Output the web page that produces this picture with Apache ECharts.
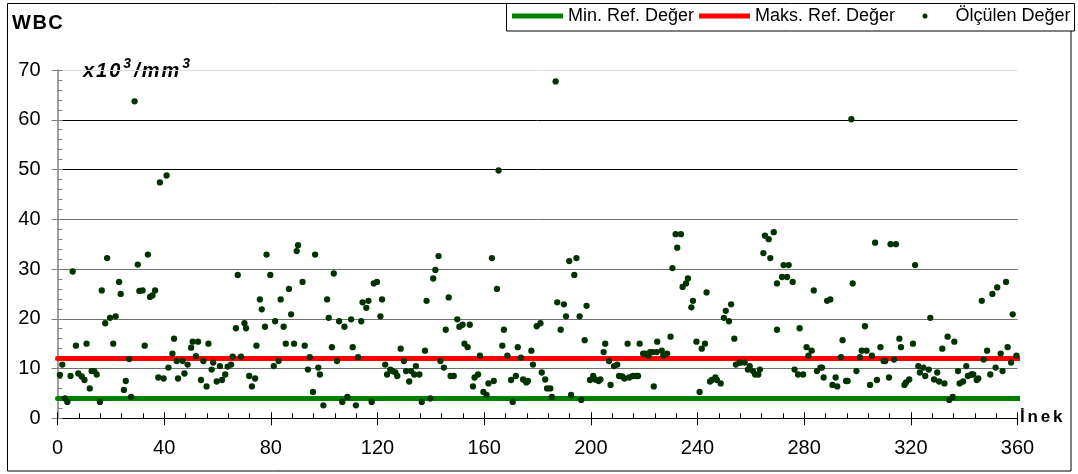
<!DOCTYPE html>
<html>
<head>
<meta charset="utf-8">
<script src="https://cdn.jsdelivr.net/npm/echarts@6/dist/echarts.min.js"></script>
<style>
  html, body { margin: 0; padding: 0; background: #fff; }
  #chart { width: 1078px; height: 474px; }
</style>
</head>
<body>
<div id="chart"></div>
<script>
// Cow position on the herd axis (İnek) and measured WBC (x10^3/mm^3)
const inek = [
  0.9, 1.8, 2.8, 3.7, 4.9, 5.7, 6.9, 7.8, 9.1, 10.1, 10.9, 12.1, 12.8, 13.8, 14.7, 15.9, 16.6, 17.9, 18.6, 19.7,
  20.9, 21.8, 23.1, 23.7, 24.9, 25.6, 26.9, 27.6, 28.9, 30.1, 30.7, 31.9, 32.7, 33.9, 34.7, 35.6, 36.6, 37.8, 38.4, 39.8,
  40.9, 41.6, 43.1, 43.7, 44.7, 45.2,
  46.9, 47.6, 48.8, 50.1, 50.7, 51.9, 52.7, 53.8, 54.7, 55.9, 56.6, 57.8, 58.4, 59.7, 60.9, 61.7, 62.9, 63.8, 65.1, 65.7,
  66.9, 67.6, 68.8, 70.1, 70.7, 71.9, 72.9, 74.1, 74.6, 75.9, 76.6, 77.8, 78.4, 79.8, 81.1, 81.6, 82.9, 83.7, 84.8, 85.6,
  86.8, 87.6, 88.7, 89.7, 90.2,
  91.9, 92.7, 93.9, 94.6, 95.8, 96.6, 97.8, 98.4, 99.7, 101.1, 101.7, 102.9, 103.6, 104.8, 105.6, 106.8, 107.6, 108.7, 110.1, 110.7,
  111.9, 112.7, 113.9, 114.4, 115.8, 116.6, 117.8, 118.6, 119.8, 121.1, 121.7, 122.9, 123.6, 124.8, 125.6, 126.7, 127.4, 128.7, 129.9, 130.7,
  131.9, 132.6, 133.8, 134.4,
  135.7, 136.6, 137.8, 138.4, 139.8, 140.9, 141.7, 142.9, 143.6, 144.9, 145.6, 146.7, 147.4, 148.6, 149.9, 150.7, 151.9, 152.6, 153.8, 154.6,
  155.8, 156.4, 157.7, 158.4, 159.7, 160.9, 161.6, 162.9, 163.6, 164.8, 165.4, 166.8, 167.4, 168.7, 170.1, 170.7, 171.9, 172.6, 173.8, 174.6,
  175.8, 176.4, 177.7, 178.3, 179.7,
  181.1, 181.6, 182.9, 183.6, 184.8, 185.4, 186.8, 187.4, 188.7, 189.9, 190.7, 191.9, 192.6, 193.8, 194.6, 195.8, 196.4, 197.7, 198.4, 199.7,
  200.9, 201.6, 202.9, 203.6, 204.8, 205.4, 206.8, 207.4, 208.7, 209.9, 210.6, 211.8, 212.6, 213.8, 214.4, 215.7, 216.9, 217.7, 218.3, 219.6,
  220.3, 221.6, 222.2, 223.2, 223.6, 224.7, 224.9,
  226.6, 227.2, 228.6, 229.9, 230.6, 231.8, 232.4, 233.8, 234.4, 235.7, 236.4, 237.7, 238.3, 239.6, 240.8, 241.6, 242.8, 243.4, 244.7, 245.4,
  246.7, 247.3, 248.7, 249.9, 250.6, 251.8, 252.6, 253.8, 254.4, 255.7, 256.3, 257.7, 258.9, 259.6, 260.8, 261.6, 262.8, 263.4, 264.7, 265.3,
  266.7, 267.3, 268.6, 269.8, 269.8,
  271.7, 272.3, 273.6, 274.2, 275.7, 276.4, 277.7, 278.3, 279.6, 280.9, 281.6, 282.8, 283.6, 284.8, 286.1, 286.7, 287.3, 288.6, 289.8, 290.6,
  291.8, 292.4, 293.8, 294.4, 295.7, 296.3, 297.7, 298.2, 299.6, 300.9, 301.6, 302.8, 303.4, 304.7, 305.4, 306.6, 307.3, 308.6, 309.8, 310.4,
  311.8, 312.4, 313.7, 314.4,
  315.7, 316.3, 317.6, 318.2, 319.4, 320.8, 321.6, 322.8, 323.4, 324.7, 325.4, 326.7, 327.3, 328.7, 329.9, 330.6, 331.8, 332.6, 333.8, 334.4,
  335.7, 336.3, 337.7, 338.3, 339.6, 340.8, 341.4, 342.7, 343.4, 344.7, 345.3, 346.6, 347.3, 348.6, 349.8, 350.6, 351.8, 352.4, 353.7, 354.4,
  355.7, 356.3, 357.6, 358.2, 359.6
];
const wbc = [
  8.7, 10.8, 4.0, 3.3, 8.5, 29.5, 14.6, 9.0, 8.4, 7.7, 15.0, 6.0, 9.5, 9.5, 8.8, 3.3, 25.7, 19.1, 32.2, 20.2,
  15.0, 20.5, 27.4, 25.0, 5.7, 7.5, 11.9, 4.3, 63.7, 30.9, 25.6, 25.7, 14.6, 32.9, 24.4, 24.7, 25.7, 8.2, 47.4, 8.0,
  48.8, 10.2, 13.0, 16.0, 11.5, 8.0,
  11.5, 9.0, 10.8, 14.2, 15.4, 12.5, 15.4, 7.7, 11.5, 6.4, 15.0, 9.8, 11.2, 7.4, 10.5, 7.7, 8.8, 10.4, 10.8, 12.4,
  18.1, 28.8, 12.4, 19.1, 18.1, 8.5, 6.4, 8.0, 14.6, 23.9, 21.9, 18.4, 32.9, 28.8, 10.5, 19.5, 11.5, 23.9, 18.4, 15.0,
  26.0, 20.9, 15.0, 33.6, 34.8,
  27.4, 14.6, 9.8, 12.3, 5.3, 32.9, 10.2, 8.8, 2.6, 23.9, 20.2, 14.3, 29.1, 11.5, 19.5, 3.3, 18.4, 4.3, 19.9, 14.3,
  2.6, 12.3, 19.5, 23.3, 22.2, 23.6, 3.3, 27.1, 27.4, 20.5, 23.9, 10.8, 8.8, 9.8, 9.5, 9.2, 8.5, 14.0, 11.5, 9.5,
  7.4, 9.5, 8.8, 10.5,
  8.8, 3.3, 13.6, 23.6, 4.0, 28.1, 29.8, 32.6, 11.5, 10.2, 17.8, 24.3, 8.5, 8.5, 19.9, 18.4, 18.8, 15.0, 14.3, 18.8,
  6.4, 8.2, 8.8, 12.6, 5.3, 4.7, 7.0, 32.2, 7.5, 26.0, 49.8, 14.6, 17.8, 12.6, 7.7, 3.3, 8.5, 14.3, 12.2, 7.8,
  7.2, 7.5, 13.6, 10.8, 18.5,
  19.1, 9.2, 7.8, 6.0, 6.0, 4.3, 67.7, 23.3, 17.8, 22.9, 20.5, 31.6, 4.7, 28.8, 32.2, 20.5, 3.7, 15.7, 22.6, 7.7,
  8.5, 7.8, 7.5, 7.8, 13.3, 15.0, 11.5, 6.7, 10.5, 10.8, 8.5, 8.4, 8.0, 15.0, 8.2, 8.5, 8.5, 8.5, 15.0, 13.0,
  13.0, 12.6, 13.3, 13.3, 6.4, 13.3, 15.4,
  13.6, 12.6, 13.0, 16.4, 30.2, 37.0, 34.3, 37.0, 26.4, 27.1, 28.1, 22.3, 23.6, 15.4, 5.3, 14.0, 15.0, 25.3, 7.4, 7.7,
  8.2, 7.7, 7.0, 20.2, 21.6, 19.5, 22.9, 16.0, 10.8, 11.2, 11.2, 11.2, 9.8, 10.5, 9.5, 8.8, 8.8, 9.8, 33.2, 36.7,
  36.0, 32.2, 37.4, 27.1, 17.8,
  28.4, 30.8, 28.4, 30.8, 27.4, 9.8, 8.8, 18.1, 8.8, 14.3, 12.6, 13.6, 25.7, 9.5, 10.2, 10.2, 8.2, 23.6, 23.9, 6.7,
  8.2, 6.4, 12.3, 15.7, 7.5, 7.5, 60.1, 27.1, 9.5, 12.3, 13.6, 18.5, 13.6, 6.7, 12.6, 35.3, 7.7, 14.3, 11.5, 11.5,
  8.2, 35.0, 11.8, 35.0,
  16.0, 14.3, 6.7, 7.2, 7.8, 15.0, 30.8, 10.5, 9.2, 10.2, 8.5, 9.8, 20.2, 7.8, 9.2, 7.4, 14.0, 7.0, 16.4, 3.7,
  4.3, 15.4, 9.5, 7.0, 7.4, 10.5, 8.5, 8.8, 8.8, 7.7, 8.0, 23.6, 11.8, 13.6, 8.8, 25.0, 10.2, 26.3, 13.0, 9.5,
  27.4, 14.3, 11.2, 20.9, 12.6
];

// Reference limits and the span they are drawn across
const minRef = 4;
const maxRef = 12;
const refSpan = [0, 361];

// Axis ranges and tick steps
const xTicks = { min: 0, max: 360, step: 40 };
const yTicks = { min: 0, max: 70, step: 10 };

const seriesNames = ['Min. Ref. Değer', 'Maks. Ref. Değer', 'Ölçülen Değer'];

const FONT = "'Liberation Sans', Arial, sans-serif";

const chart = echarts.init(document.getElementById('chart'), null, { renderer: 'canvas' });

const points = inek.map((x, i) => [x, wbc[i]]);
const refLine = v => refSpan.map(x => [x, v]);

// Rich-text helper: one token per character so the letters can be spaced out
const spaced = (str, style) => str.split('').map(ch => '{' + style + '|' + ch + '}').join('');

const legendText = { fontFamily: FONT, fontSize: 18, color: '#000' };

const baseX = {
  type: 'value', min: xTicks.min, max: xTicks.max, interval: xTicks.step,
  splitLine: { show: false }
};
const baseY = {
  type: 'value', min: yTicks.min, max: yTicks.max, interval: yTicks.step
};

chart.setOption({
  animation: false,
  backgroundColor: '#fff',
  grid: { left: 57.5, right: 60.5, top: 70, bottom: 55.7, containLabel: false },
  legend: [
    {
      data: [
        { name: seriesNames[0], icon: 'rect' },
        { name: seriesNames[1], icon: 'rect' }
      ],
      left: 512, top: 7, padding: 0,
      itemWidth: 51, itemHeight: 5, itemGap: 5,
      selectedMode: false,
      textStyle: legendText
    },
    {
      data: [{ name: seriesNames[2], icon: 'circle' }],
      left: 922.5, top: 7, padding: 0,
      itemWidth: 5, itemHeight: 5,
      selectedMode: false,
      textStyle: Object.assign({}, legendText, { padding: [0, 0, 0, 23] })
    }
  ],
  xAxis: [
    Object.assign({}, baseX, {
      position: 'bottom',
      axisLine: { show: true, lineStyle: { color: '#000', width: 1 } },
      axisTick: { show: true, inside: true, length: 6, lineStyle: { color: '#000' } },
      minorTick: { show: true, splitNumber: 5, length: 5, lineStyle: { color: '#000' } },
      axisLabel: { fontFamily: FONT, fontSize: 20, color: '#000', margin: 20 }
    }),
    Object.assign({}, baseX, {
      position: 'bottom',
      axisLine: { show: false },
      axisTick: { show: true, inside: false, length: 7, lineStyle: { color: '#000' } },
      axisLabel: { show: false }
    })
  ],
  yAxis: [
    Object.assign({}, baseY, {
      position: 'left',
      axisLine: { show: true, lineStyle: { color: '#808080', width: 1.5 } },
      axisTick: { show: true, inside: true, length: 5, lineStyle: { color: '#808080' } },
      minorTick: { show: true, splitNumber: 5, length: 5, lineStyle: { color: '#808080' } },
      axisLabel: { fontFamily: FONT, fontSize: 20, color: '#000', margin: 17 },
      splitLine: {
        show: true,
        lineStyle: {
          color: ['#808080', '#707070', '#707070', '#707070', '#707070', '#000', '#000', '#dcdcdc'],
          width: 1
        }
      }
    }),
    Object.assign({}, baseY, {
      position: 'left',
      axisLine: { show: false },
      axisTick: { show: true, inside: false, length: 6, lineStyle: { color: '#808080' } },
      axisLabel: { show: false },
      splitLine: { show: false }
    })
  ],
  series: [
    {
      name: seriesNames[0], type: 'line', data: refLine(minRef),
      symbol: 'none', clip: false, silent: true, z: 2,
      itemStyle: { color: '#008000' },
      lineStyle: { color: '#008000', width: 5, cap: 'round' }
    },
    {
      name: seriesNames[1], type: 'line', data: refLine(maxRef),
      symbol: 'none', clip: false, silent: true, z: 2,
      itemStyle: { color: '#ff0000' },
      lineStyle: { color: '#ff0000', width: 5, cap: 'round' }
    },
    {
      name: seriesNames[2], type: 'scatter', data: points,
      symbol: 'circle', symbolSize: 6.3, z: 3,
      itemStyle: { color: '#003300', opacity: 1 }
    }
  ],
  graphic: [
    {
      type: 'rect', silent: true, z: -1,
      shape: { x: 7.5, y: 3.5, width: 1063.5, height: 467.5 },
      style: { fill: null, stroke: '#000', lineWidth: 1 }
    },
    {
      // legend frame
      type: 'rect', silent: true, z: -1,
      shape: { x: 506.5, y: 3.5, width: 568, height: 27.5 },
      style: { fill: '#fff', stroke: '#000', lineWidth: 1 }
    },
    {
      type: 'text', left: 12, top: 13,
      style: {
        text: spaced('WBC', 't'),
        rich: { t: { font: "bold 20px " + FONT, fill: '#000', padding: [0, 1.5, 0, 0] } }
      }
    },
    {
      type: 'text', left: 82, top: 57,
      style: {
        text: spaced('x10', 'b') + '{s|3}' + spaced('/mm', 'b') + '{s|3}',
        rich: {
          b: { font: "italic bold 20px " + FONT, fill: '#000', verticalAlign: 'bottom', lineHeight: 24, padding: [0, 1, 0, 1] },
          s: { font: "italic bold 14px " + FONT, fill: '#000', verticalAlign: 'top', lineHeight: 24, padding: [0, 2, 10, 2] }
        }
      }
    },
    {
      type: 'text', left: 1020, top: 409,
      style: {
        text: spaced('İnek', 'k'),
        rich: { k: { font: "bold 17px " + FONT, fill: '#000', padding: [0, 2.8, 0, 0] } }
      }
    }
  ]
});
</script>
</body>
</html>
